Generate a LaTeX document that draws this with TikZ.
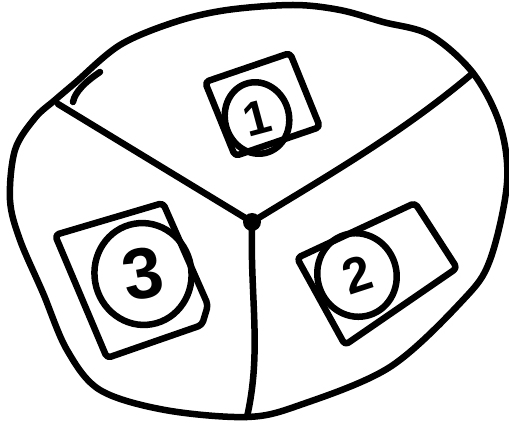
\documentclass[tikz,border=0pt]{standalone}
\usepackage{fontspec}
\newfontfamily\sketchfont{Liberation Sans}
\usetikzlibrary{shapes.geometric}
\definecolor{skInk}{HTML}{000000}

\begin{document}
\begin{tikzpicture}[
      x=1pt, y=-1pt,
      ink/.style={draw=skInk, line width=6.5pt, line cap=round, line join=round},
      tile/.style={ink, rounded corners=4pt},
      badge/.style={ink, ellipse, inner sep=0pt, text=skInk,
                    font=\sketchfont\bfseries},
      spoke/.style={ink}
    ]
    \useasboundingbox (0,0) rectangle (509,430);

    % --- rim of the disc ---
    \draw[ink] plot[smooth cycle, tension=0.55] coordinates {
      (35,118) (55,100) (75,83) (120,45) (175,22) (227,10) (293,5) (340,10)
      (383,22) (430,35) (473,73) (500,125) (507,183) (490,260) (463,300)
      (390,367) (300,405) (247,417) (165,410) (100,390) (67,350) (43,293)
      (20,240) (10,200) (15,150)};
    \draw[ink] (100,72) .. controls (85,82) and (75,92) .. (73,102);

    % --- hub and spokes ---
    \coordinate (hub) at (252,222);
    \coordinate (rimA) at (58,104);
    \coordinate (rimB) at (473,73);
    \coordinate (rimC) at (247,417);
    \draw[spoke] (hub) -- (rimA);
    \draw[spoke] (hub) .. controls (320,180) and (400,135) .. (rimB);
    \draw[spoke] (hub) .. controls (250,300) and (262,350) .. (rimC);
    \fill[skInk] (hub) circle (9);

    % --- tiles ---
    \draw[tile] (205,82) -- (290,53) -- (320,127) -- (235,156) -- cycle;
    \draw[tile] (297,258) -- (415,203) -- (457,268) -- (345,345) -- cycle;
    \draw[tile] (55,235) -- (163,203) -- (208,305) -- (202,325) -- (107,358) -- cycle;

    % --- numbered badges ---
    \node[badge, minimum width=64pt, minimum height=72pt, rotate=15,
          font=\sketchfont\bfseries\fontsize{48}{48}\selectfont] (one) at (257,118) {1};
    \node[badge, minimum width=79pt, minimum height=84pt, rotate=18,
          font=\sketchfont\bfseries\fontsize{50}{50}\selectfont] (two) at (357,275) {2};
    \node[badge, minimum width=97pt, minimum height=102pt, rotate=10,
          font=\sketchfont\bfseries\fontsize{72}{72}\selectfont] (three) at (143,274) {3};
  \end{tikzpicture}
\end{document}
